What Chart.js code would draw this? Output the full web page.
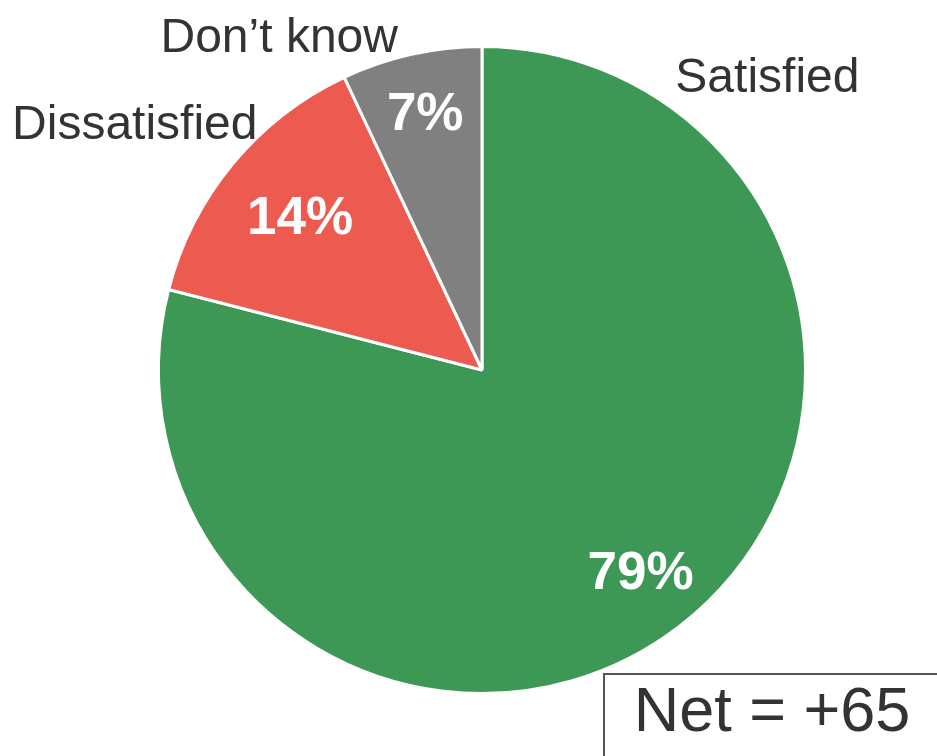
<!DOCTYPE html>
<html>
<head>
<meta charset="utf-8">
<script src="https://cdn.jsdelivr.net/npm/chart.js@4.4.0/dist/chart.umd.min.js"></script>
<style>
  html, body { margin: 0; padding: 0; background: #fff; }
  #wrap { width: 937px; height: 756px; position: relative; }
</style>
</head>
<body>
<div id="wrap"><canvas id="pie"></canvas></div>
<script>
const categories = ['Satisfied', 'Dissatisfied', 'Don\u2019t know']
const shares = [79, 14, 7]
const sliceColors = ['#3d9856', '#ec5a50', '#808080']
const netScore = '+65'

// where the category names sit: angle clockwise from 12 o'clock, distance in radii
const namePlacement = [
  { angle: 44, dist: 1.27 },
  { angle: 305.6, dist: 1.32 },
  { angle: 328.8, dist: 1.21 }
]
// how far out the percentages sit, in radii
const pctDist = [0.8, 0.73, 0.805]

const pieLabels = {
  id: 'pieLabels',
  afterDatasetsDraw(chart) {
    const ctx = chart.ctx
    const arcs = chart.getDatasetMeta(0).data
    ctx.save()
    ctx.textAlign = 'center'
    ctx.textBaseline = 'middle'
    arcs.forEach((arc, i) => {
      const { x, y, startAngle, endAngle, outerRadius } = arc.getProps(['x', 'y', 'startAngle', 'endAngle', 'outerRadius'], true)
      const mid = (startAngle + endAngle) / 2
      const r = outerRadius * pctDist[i]
      ctx.fillStyle = '#fff'
      ctx.font = 'bold 53px "Liberation Sans", Arial, sans-serif'
      ctx.fillText(shares[i] + '%', x + Math.cos(mid) * r, y + Math.sin(mid) * r)

      const p = namePlacement[i]
      const a = (p.angle - 90) * Math.PI / 180
      ctx.fillStyle = '#333'
      ctx.font = '48px "Liberation Sans", Arial, sans-serif'
      ctx.fillText(categories[i], x + Math.cos(a) * outerRadius * p.dist, y + 4 + Math.sin(a) * outerRadius * p.dist)
    })

    // net score box, bottom right
    ctx.strokeStyle = '#555'
    ctx.lineWidth = 2
    ctx.strokeRect(604, 674, 400, 120)
    ctx.fillStyle = '#333'
    ctx.font = '63px "Liberation Sans", Arial, sans-serif'
    ctx.fillText('Net = ' + netScore, 772, 714)
    ctx.restore()
  }
}

new Chart(document.getElementById('pie'), {
  type: 'pie',
  data: {
    labels: categories,
    datasets: [{
      data: shares,
      backgroundColor: sliceColors,
      borderColor: '#fff',
      borderWidth: 3
    }]
  },
  options: {
    responsive: true,
    maintainAspectRatio: false,
    animation: false,
    layout: { padding: { top: 45, bottom: 61, left: 140, right: 113 } },
    plugins: {
      legend: { display: false },
      tooltip: { enabled: false }
    }
  },
  plugins: [pieLabels]
})
</script>
</body>
</html>
